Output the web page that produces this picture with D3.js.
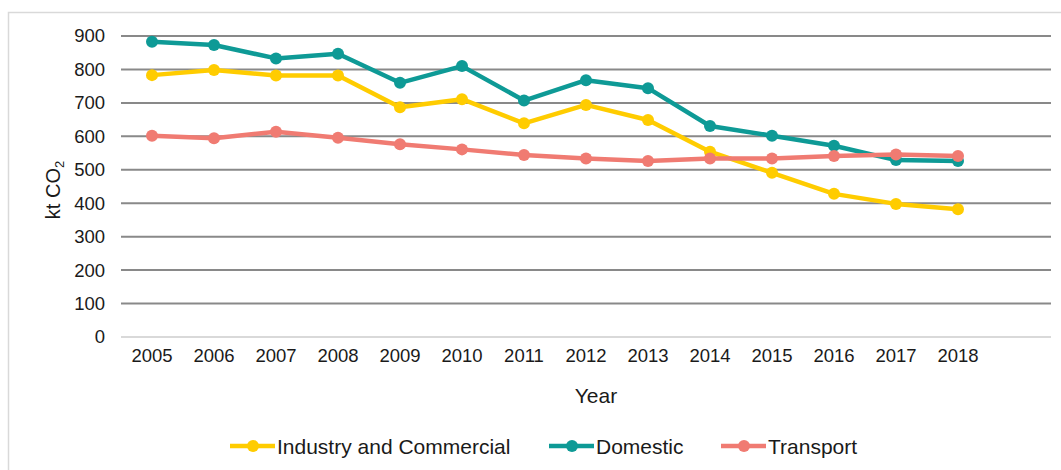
<!DOCTYPE html>
<html>
<head>
<meta charset="utf-8">
<script src="https://cdn.jsdelivr.net/npm/d3@7"></script>
<style>
  body { margin: 0; background: #fff; }
  text { font-family: "Liberation Sans", Arial, sans-serif; fill: #1a1a1a; }
</style>
</head>
<body>
<svg id="chart" width="1061" height="470"></svg>
<script>
const W = 1061, H = 470
const MARGIN = {top: 36, right: 10, bottom: 133, left: 121}

const years = ['2005','2006','2007','2008','2009','2010','2011','2012','2013','2014','2015','2016','2017','2018']
const yTicks = [0, 100, 200, 300, 400, 500, 600, 700, 800, 900]

const industry = [783, 798, 782, 782, 687, 711, 639, 694, 649, 554, 491, 428, 398, 382]
const domestic = [883, 873, 833, 847, 760, 810, 707, 768, 744, 631, 602, 572, 529, 526]
const transport = [602, 594, 614, 596, 576, 561, 544, 534, 526, 534, 534, 541, 546, 541]

const seriesNames = ['Industry and Commercial', 'Domestic', 'Transport']
const seriesColors = ['#ffcc00', '#0e9a96', '#f07b72']

const series = [industry, domestic, transport].map((vals, i) => ({
  name: seriesNames[i], color: seriesColors[i], values: vals
}))

let svg = d3.select('#chart')

// outer frame
svg.append('rect')
  .attr('x', 8.5).attr('y', 12.5)
  .attr('width', W).attr('height', H)
  .attr('fill', 'none').attr('stroke', '#d9d9d9').attr('stroke-width', 1.5)

// one empty slot on the right, as in the original
let xScale = d3.scaleBand()
  .domain(years.concat(['']))
  .range([MARGIN.left, MARGIN.left + 930])

let yScale = d3.scaleLinear()
  .domain([0, 900])
  .range([337, 36])

let xc = d => xScale(d) + xScale.bandwidth() / 2

// gridlines
svg.append('g')
  .selectAll('line')
  .data(yTicks)
  .join('line')
  .attr('x1', MARGIN.left).attr('x2', MARGIN.left + 930)
  .attr('y1', d => yScale(d)).attr('y2', d => yScale(d))
  .attr('stroke', d => d === 0 ? '#d9d9d9' : '#898989')
  .attr('stroke-width', 2)

// y axis labels
let yAxis = svg.append('g')
  .attr('transform', 'translate(' + (MARGIN.left - 16) + ',0)')
  .call(d3.axisLeft(yScale).tickValues(yTicks).tickSize(0).tickPadding(0))
yAxis.select('.domain').remove()
yAxis.selectAll('text').style('font-size', '18.5px').attr('fill', '#1a1a1a')

// x axis labels
let xAxis = svg.append('g')
  .attr('transform', 'translate(0,' + 349 + ')')
  .call(d3.axisBottom(xScale).tickSize(0).tickPadding(0))
xAxis.select('.domain').remove()
xAxis.selectAll('text').style('font-size', '18.5px').attr('fill', '#1a1a1a')

// axis titles
svg.append('text')
  .attr('x', 596).attr('y', 403)
  .attr('text-anchor', 'middle')
  .style('font-size', '21px')
  .text('Year')

let yTitle = svg.append('text')
  .attr('transform', 'translate(60,190) rotate(-90)')
  .attr('text-anchor', 'middle')
  .style('font-size', '20px')
yTitle.append('tspan').text('kt CO')
yTitle.append('tspan').text('2').style('font-size', '13px').attr('dy', 4)

// lines + dots
let line = d3.line()
  .x((d, i) => xc(years[i]))
  .y(d => yScale(d))

let groups = svg.append('g')
  .selectAll('g')
  .data(series)
  .join('g')

groups.append('path')
  .attr('d', d => line(d.values))
  .attr('fill', 'none')
  .attr('stroke', d => d.color)
  .attr('stroke-width', 4.5)
  .attr('stroke-linejoin', 'round')

groups.selectAll('circle')
  .data(d => d.values.map(v => ({v: v, color: d.color})))
  .join('circle')
  .attr('cx', (d, i) => xc(years[i]))
  .attr('cy', d => yScale(d.v))
  .attr('r', 6)
  .attr('fill', d => d.color)

// legend
const legendX = [230, 549, 721]
let legend = svg.append('g')
  .selectAll('g')
  .data(series)
  .join('g')
  .attr('transform', (d, i) => 'translate(' + legendX[i] + ',446)')

legend.append('line')
  .attr('x1', 0).attr('x2', 45)
  .attr('stroke', d => d.color).attr('stroke-width', 4.5)
legend.append('circle')
  .attr('cx', 23).attr('r', 6)
  .attr('fill', d => d.color)
legend.append('text')
  .attr('x', 47).attr('y', 7.5)
  .style('font-size', '21px')
  .text(d => d.name)
</script>
</body>
</html>
